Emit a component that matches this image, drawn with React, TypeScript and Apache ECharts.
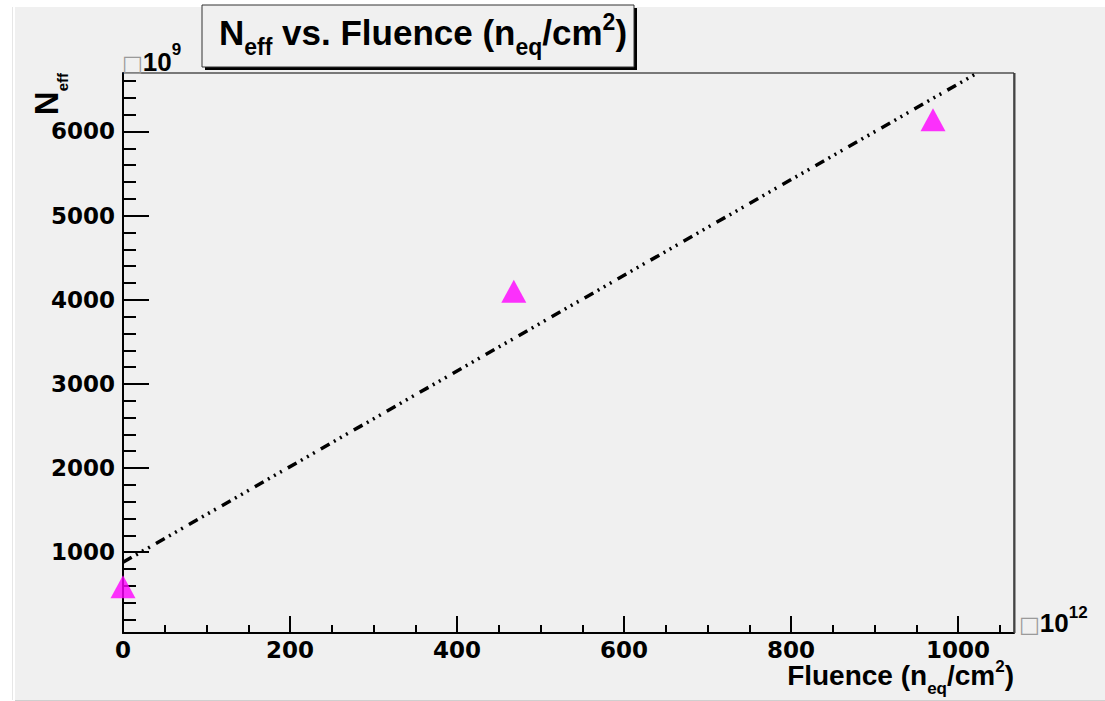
import React, { useEffect, useRef } from "react";
import * as echarts from "echarts";

// ---- data ----
const pointX = [0, 468, 970];
const pointY = [590, 4100, 6140];
const fitX = [0, 1023];
const fitY = [880, 6695];
const xMajorTicks = [0, 200, 400, 600, 800, 1000];
const xMinorTicks = [50, 100, 150, 250, 300, 350, 450, 500, 550, 650, 700, 750, 850, 900, 950, 1050];
const yMajorTicks = [1000, 2000, 3000, 4000, 5000, 6000];
const yMinorTicks = [200, 400, 600, 800, 1200, 1400, 1600, 1800, 2200, 2400, 2600, 2800, 3200, 3400, 3600, 3800, 4200, 4400, 4600, 4800, 5200, 5400, 5600, 5800, 6200, 6400, 6600];
const xRange = [0, 1067];
const yRange = [40, 6695];
const titleText = "{m|N}{s|eff}{m| vs. Fluence (n}{s|eq}{m|/cm}{p|2}{m|)}";
const xTitleText = "{m|Fluence (n}{s|eq}{m|/cm}{p|2}{m|)}";
const yTitleText = "{m|N}{s|eff}";
const yExpText = "{b|\u25A1}{m|10}{p|9}";
const xExpText = "{b|\u25A1}{m|10}{p|12}";

const SANS = "'Liberation Sans', Arial, Helvetica, sans-serif";
const TICKFONT = "'DejaVu Sans', sans-serif";

function richStyles(M: number, S: number, T: number, subPad: number, supPad: number, B = 22) {
  return {
    m: { fontSize: M, lineHeight: M, fontFamily: SANS, fontWeight: "bold", fill: "#000", verticalAlign: "top", padding: [T, 0, 0, 0] },
    s: { fontSize: S, lineHeight: S, fontFamily: SANS, fontWeight: "bold", fill: "#000", verticalAlign: "top", padding: [subPad, 0, 0, 0] },
    p: { fontSize: S, lineHeight: S, fontFamily: SANS, fontWeight: "bold", fill: "#000", verticalAlign: "top", padding: [supPad, 0, 0, 0] },
    b: { fontSize: B, lineHeight: B, fontFamily: "'DejaVu Sans', sans-serif", fontWeight: "normal", fill: "#9a9a9a", verticalAlign: "top", padding: [T + 0.846 * (M - B), 0, 0, 0] },
  };
}

export default function App() {
  const ref = useRef<HTMLDivElement>(null);
  useEffect(() => {
    if (!ref.current) return;
    const chart = echarts.init(ref.current, undefined, { renderer: "svg" });
    const axisLine = { show: true, lineStyle: { color: "#000", width: 2 } };
    const tickLabel = {
      fontFamily: TICKFONT,
      fontWeight: "bold" as const,
      fontSize: 23,
      color: "#000",
      formatter: (v: number) => String(v),
    };
    chart.setOption({
      animation: false,
      backgroundColor: "transparent",
      grid: {
        left: 123,
        top: 73,
        width: 891,
        height: 560,
        show: true,
        borderColor: "#000",
        borderWidth: 1,
        backgroundColor: "transparent",
      },
      xAxis: [
        {
          type: "value",
          position: "bottom",
          min: xRange[0],
          max: xRange[1],
          axisLine,
          axisTick: { show: true, inside: true, length: 17, lineStyle: { color: "#000", width: 2 }, customValues: xMajorTicks },
          axisLabel: { ...tickLabel, margin: 5, customValues: xMajorTicks },
          splitLine: { show: false },
          z: 3,
        },
        {
          type: "value",
          position: "bottom",
          min: xRange[0],
          max: xRange[1],
          axisLine: { show: false },
          axisTick: { show: true, inside: true, length: 8, lineStyle: { color: "#000", width: 2 }, customValues: xMinorTicks },
          axisLabel: { show: false },
          splitLine: { show: false },
        },
      ],
      yAxis: [
        {
          type: "value",
          position: "left",
          min: yRange[0],
          max: yRange[1],
          axisLine,
          axisTick: { show: true, inside: true, length: 26, lineStyle: { color: "#000", width: 2 }, customValues: yMajorTicks },
          axisLabel: { ...tickLabel, margin: 8, customValues: yMajorTicks },
          splitLine: { show: false },
          z: 3,
        },
        {
          type: "value",
          position: "left",
          min: yRange[0],
          max: yRange[1],
          axisLine: { show: false },
          axisTick: { show: true, inside: true, length: 13, lineStyle: { color: "#000", width: 2 }, customValues: yMinorTicks },
          axisLabel: { show: false },
          splitLine: { show: false },
        },
      ],
      series: [
        {
          type: "line",
          xAxisIndex: 0,
          yAxisIndex: 0,
          data: fitX.map((x, i) => [x, fitY[i]]),
          showSymbol: false,
          symbol: "none",
          lineStyle: { color: "#000", width: 3.5, type: [10, 5, 2, 5, 2, 5, 2, 7], cap: "butt" },
          z: 3,
          silent: true,
        },
        {
          type: "scatter",
          xAxisIndex: 0,
          yAxisIndex: 0,
          data: pointX.map((x, i) => [x, pointY[i]]),
          symbol: "triangle",
          symbolSize: [25, 23],
          itemStyle: { color: "#ff00ff" },
          clip: false,
          z: 5,
        },
      ],
      graphic: [
        { type: "rect", shape: { x: 205, y: 8, width: 432, height: 62 }, style: { fill: "#000" }, z: 10 },
        { type: "rect", shape: { x: 202, y: 5, width: 432, height: 62 }, style: { fill: "#f0f0f0", stroke: "#333", lineWidth: 1 }, z: 11 },
        {
          type: "text",
          x: 423,
          y: 9,
          z: 12,
          style: { text: titleText, align: "center", verticalAlign: "top", rich: richStyles(35, 23, 6, 26.2, 1.2) as any },
        },
        {
          type: "text",
          x: 1014,
          y: 657.3,
          z: 12,
          style: { text: xTitleText, align: "right", verticalAlign: "top", rich: richStyles(28, 17, 4, 22.8, 0.3) as any },
        },
        {
          type: "text",
          x: 30,
          y: 73,
          rotation: Math.PI / 2,
          z: 12,
          style: { text: yTitleText, align: "right", verticalAlign: "top", rich: richStyles(33, 15, 0, 24.5, 0) as any },
        },
        {
          type: "text",
          x: 122,
          y: 41,
          z: 12,
          style: { text: yExpText, align: "left", verticalAlign: "top", rich: richStyles(26, 17, 8, 0, 0.3, 22) as any },
        },
        {
          type: "text",
          x: 1019,
          y: 602,
          z: 12,
          style: { text: xExpText, align: "left", verticalAlign: "top", rich: richStyles(26, 17, 8, 0, 2.3, 22) as any },
        },
        { type: "line", shape: { x1: 1014.5, y1: 73, x2: 1014.5, y2: 633 }, style: { stroke: "#444", lineWidth: 2 }, z: 9 },
      ],
    });
    return () => chart.dispose();
  }, []);

  return (
    <div style={{ position: "absolute", left: 0, top: 0, width: 1105, height: 701, background: "#fff", overflow: "hidden" }}>
      <div style={{ position: "absolute", left: 12, top: 7, width: 1, height: 693, background: "#e6e6e6" }} />
      <div style={{ position: "absolute", left: 15, top: 7, width: 1090, height: 693, background: "#f0f0f0" }} />
      <div style={{ position: "absolute", left: 15, top: 700, width: 1090, height: 1, background: "#cfcfcf" }} />
      <div ref={ref} style={{ position: "absolute", left: 0, top: 0, width: 1105, height: 701 }} />
    </div>
  );
}
